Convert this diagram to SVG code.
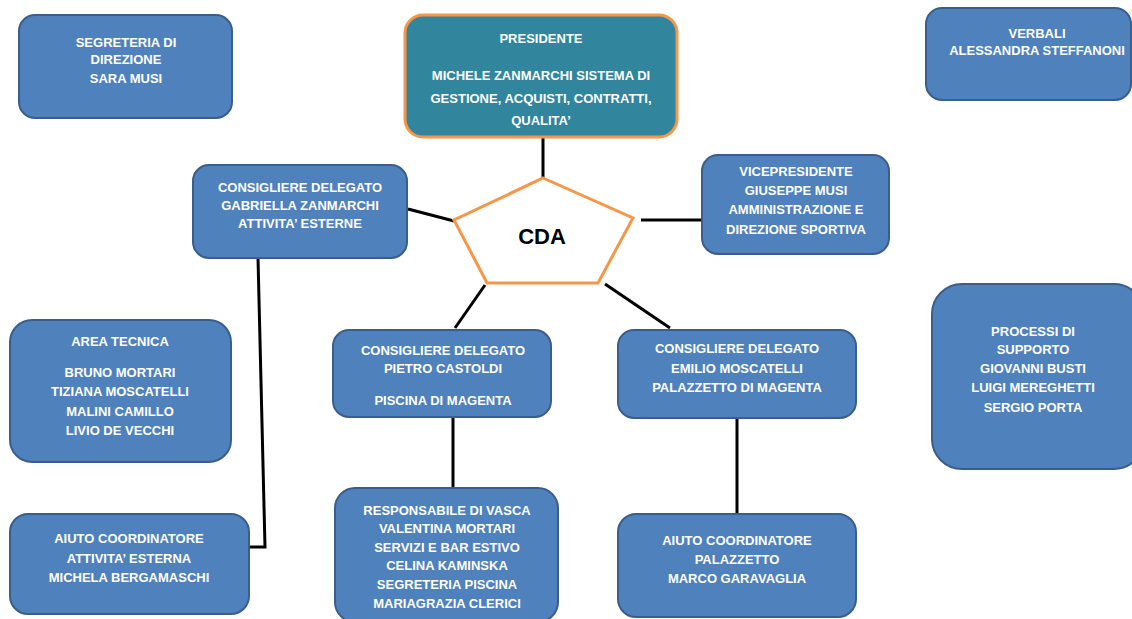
<svg xmlns="http://www.w3.org/2000/svg" width="1132" height="619" viewBox="0 0 1132 619">
<style>
.box{fill:#4F81BD;stroke:#3A5E8C;stroke-width:2}
.pres{fill:#31859C;stroke:#F79646;stroke-width:3}
.t{font-family:"Liberation Sans",Arial,sans-serif;font-weight:bold;font-size:13px;fill:#FFFFFF;text-anchor:middle}
.c{stroke:#000;stroke-width:3;fill:none}
</style>
<rect width="1132" height="619" fill="#FFFFFF"/>
<g id="connectors">
<line class="c" x1="543" y1="137" x2="543" y2="178"/>
<line class="c" x1="408" y1="209" x2="454" y2="221"/>
<line class="c" x1="641" y1="220" x2="702" y2="220"/>
<line class="c" x1="485" y1="285" x2="455" y2="328"/>
<line class="c" x1="605" y1="284" x2="670" y2="328"/>
<polyline class="c" points="258,258 265,547 249,547"/>
<line class="c" x1="453" y1="417" x2="453" y2="488"/>
<line class="c" x1="737" y1="418" x2="737" y2="514"/>
</g>
<g id="segreteria">
<rect class="box" x="19" y="15" width="213" height="103" rx="16"/>
<text class="t" x="126" y="47">SEGRETERIA DI</text>
<text class="t" x="126" y="64">DIREZIONE</text>
<text class="t" x="126" y="83">SARA MUSI</text>
</g>
<g id="presidente">
<rect class="pres" x="405" y="15" width="272" height="122" rx="18"/>
<text class="t" x="541" y="43">PRESIDENTE</text>
<text class="t" x="541" y="80">MICHELE ZANMARCHI SISTEMA DI</text>
<text class="t" x="541" y="103">GESTIONE, ACQUISTI, CONTRATTI,</text>
<text class="t" x="541" y="125">QUALITA’</text>
</g>
<g id="verbali">
<rect class="box" x="926" y="8" width="205" height="92" rx="16"/>
<text class="t" x="1037" y="38">VERBALI</text>
<text class="t" x="1037" y="55">ALESSANDRA STEFFANONI</text>
</g>
<g id="vicepresidente">
<rect class="box" x="702" y="155" width="187" height="99" rx="16"/>
<text class="t" x="796" y="176">VICEPRESIDENTE</text>
<text class="t" x="796" y="195">GIUSEPPE MUSI</text>
<text class="t" x="796" y="214">AMMINISTRAZIONE E</text>
<text class="t" x="796" y="234">DIREZIONE SPORTIVA</text>
</g>
<g id="gabriella">
<rect class="box" x="193" y="165" width="214" height="93" rx="16"/>
<text class="t" x="300" y="192">CONSIGLIERE DELEGATO</text>
<text class="t" x="300" y="210">GABRIELLA ZANMARCHI</text>
<text class="t" x="300" y="228">ATTIVITA’ ESTERNE</text>
</g>
<g id="cda">
<polygon points="543,178 633,218 598,283 487,283 454,220" fill="#FFFFFF" stroke="#F79646" stroke-width="3"/>
<text x="542" y="244" font-family="Liberation Sans,Arial,sans-serif" font-weight="bold" font-size="22" fill="#000" text-anchor="middle">CDA</text>
</g>
<g id="area-tecnica">
<rect class="box" x="10" y="320" width="221" height="142" rx="22"/>
<text class="t" x="120" y="346">AREA TECNICA</text>
<text class="t" x="120" y="377">BRUNO MORTARI</text>
<text class="t" x="120" y="396">TIZIANA MOSCATELLI</text>
<text class="t" x="120" y="416">MALINI CAMILLO</text>
<text class="t" x="120" y="435">LIVIO DE VECCHI</text>
</g>
<g id="aiuto-attivita">
<rect class="box" x="10" y="514" width="239" height="100" rx="18"/>
<text class="t" x="129" y="543">AIUTO COORDINATORE</text>
<text class="t" x="129" y="563">ATTIVITA’ ESTERNA</text>
<text class="t" x="129" y="582">MICHELA BERGAMASCHI</text>
</g>
<g id="pietro">
<rect class="box" x="333" y="330" width="218" height="87" rx="16"/>
<text class="t" x="443" y="355">CONSIGLIERE DELEGATO</text>
<text class="t" x="443" y="373">PIETRO CASTOLDI</text>
<text class="t" x="443" y="405">PISCINA DI MAGENTA</text>
</g>
<g id="responsabile">
<rect class="box" x="335" y="488" width="223" height="134" rx="20"/>
<text class="t" x="447" y="515">RESPONSABILE DI VASCA</text>
<text class="t" x="447" y="533">VALENTINA MORTARI</text>
<text class="t" x="447" y="552">SERVIZI E BAR ESTIVO</text>
<text class="t" x="447" y="570">CELINA KAMINSKA</text>
<text class="t" x="447" y="589">SEGRETERIA PISCINA</text>
<text class="t" x="447" y="608">MARIAGRAZIA CLERICI</text>
</g>
<g id="emilio">
<rect class="box" x="618" y="330" width="238" height="88" rx="16"/>
<text class="t" x="737" y="353">CONSIGLIERE DELEGATO</text>
<text class="t" x="737" y="373">EMILIO MOSCATELLI</text>
<text class="t" x="737" y="392">PALAZZETTO DI MAGENTA</text>
</g>
<g id="aiuto-palazzetto">
<rect class="box" x="618" y="514" width="238" height="103" rx="18"/>
<text class="t" x="737" y="545">AIUTO COORDINATORE</text>
<text class="t" x="737" y="564">PALAZZETTO</text>
<text class="t" x="737" y="583">MARCO GARAVAGLIA</text>
</g>
<g id="processi">
<rect class="box" x="932" y="284" width="212" height="185" rx="30"/>
<text class="t" x="1033" y="336">PROCESSI DI</text>
<text class="t" x="1033" y="354">SUPPORTO</text>
<text class="t" x="1033" y="373">GIOVANNI BUSTI</text>
<text class="t" x="1033" y="392">LUIGI MEREGHETTI</text>
<text class="t" x="1033" y="412">SERGIO PORTA</text>
</g>
</svg>
